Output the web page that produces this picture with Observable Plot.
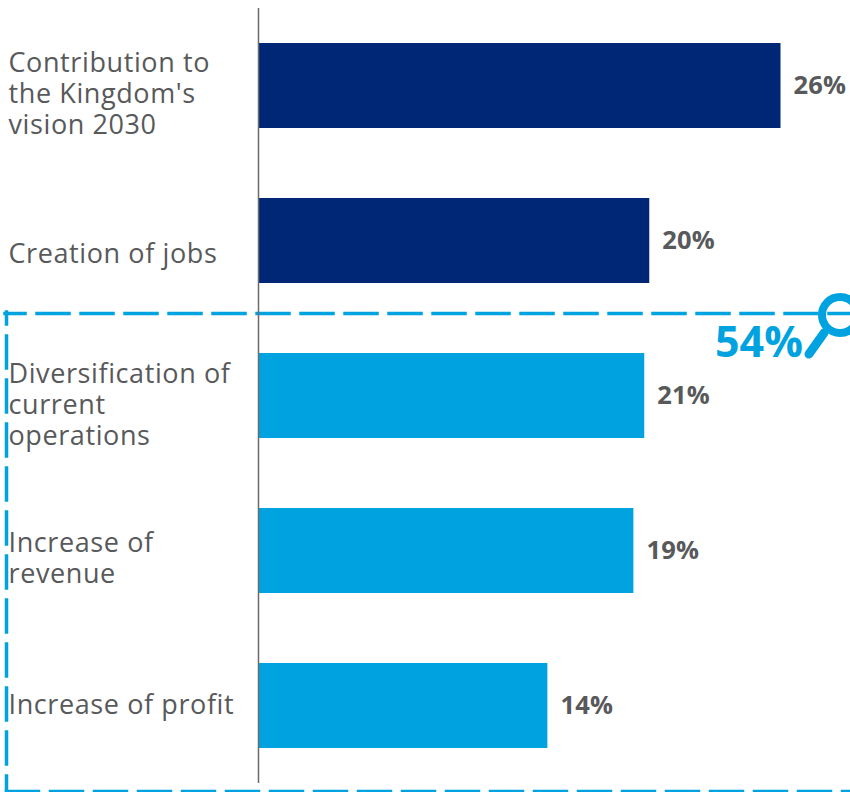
<!DOCTYPE html>
<html>
<head>
<meta charset="utf-8">
<script src="https://cdn.jsdelivr.net/npm/d3@7"></script>
<script src="https://cdn.jsdelivr.net/npm/@observablehq/plot@0.6"></script>
<style>
html,body{margin:0;padding:0;background:#fff;overflow:hidden}
svg{display:block}
.cat text{letter-spacing:0.6px}
.val text{letter-spacing:0.2px}
</style>
</head>
<body>
<div id="chart"></div>
<script>
const categories = ["Contribution to\nthe Kingdom's\nvision 2030","Creation of jobs","Diversification of\ncurrent\noperations","Increase of\nrevenue","Increase of profit"];
const barLengths = [26, 19.47, 19.22, 18.68, 14.4];
const valueLabels = ["26%","20%","21%","19%","14%"];
const groups = ["dark","dark","light","light","light"];
const calloutLabel = ["54%"];

const NAVY = "#002776", CYAN = "#00A3E0", GREY = "#58595B";
const FONT = "'Open Sans', sans-serif";
const rows = categories.map((c,i)=>({category:c,length:barLengths[i],label:valueLabels[i],group:groups[i]}));
const labelNudge = [7,12,8,7,-2];

const dashed = {stroke:CYAN, strokeWidth:3.5, strokeDasharray:"32 12"};

const magnifier = () => {
  const g = d3.create("svg:g").attr("fill","none").attr("stroke",CYAN);
  g.append("circle").attr("cx",840).attr("cy",315).attr("r",18).attr("stroke-width",8);
  g.append("line").attr("x1",824).attr("y1",333).attr("x2",809).attr("y2",354).attr("stroke-width",9).attr("stroke-linecap","round");
  return g.node();
};

const chart = Plot.plot({
  width: 850, height: 792,
  marginTop: 0, marginRight: 0, marginBottom: 0, marginLeft: 0,
  style: {background:"#fff", fontFamily: FONT},
  x: {domain:[0,26], range:[258,780.5], axis:null},
  y: {domain:categories, range:[8,783], paddingInner:0.4516, paddingOuter:0.2258, axis:null},
  color: {domain:["dark","light"], range:[NAVY,CYAN]},
  marks: [
    Plot.frame({...dashed, anchor:"top", strokeDashoffset:12, insetLeft:4.5, insetTop:313, insetRight:-20}),
    Plot.frame({...dashed, anchor:"left", strokeDashoffset:20, insetLeft:6, insetTop:311.5, insetBottom:1}),
    Plot.frame({...dashed, anchor:"bottom", strokeDashoffset:0, insetLeft:6, insetBottom:1, insetRight:-20}),
    Plot.barX(rows,{x:"length", y:"category", fill:"group"}),
    Plot.ruleX([0],{stroke:"#6b6b6b", strokeWidth:1.5, insetTop:8, insetBottom:9}),
    ...rows.map((r,i)=>Plot.text([r],{
      y:"category", text:"category", frameAnchor:"left", textAnchor:"start", dx:8, dy:labelNudge[i],
      fontSize:27, lineHeight:1.15, fill:GREY, className:"cat"
    })),
    Plot.text(rows,{x:"length", y:"category", text:"label", textAnchor:"start", dx:12.5, fontSize:25.5, fontWeight:700, fill:GREY, className:"val"}),
    magnifier,
    Plot.text(calloutLabel,{text:d=>d, frameAnchor:"top-left", textAnchor:"start", dx:714.5, dy:343, lineAnchor:"middle", fontSize:43, fontWeight:700, fill:CYAN})
  ]
});
document.getElementById("chart").append(chart);
</script>
</body>
</html>
